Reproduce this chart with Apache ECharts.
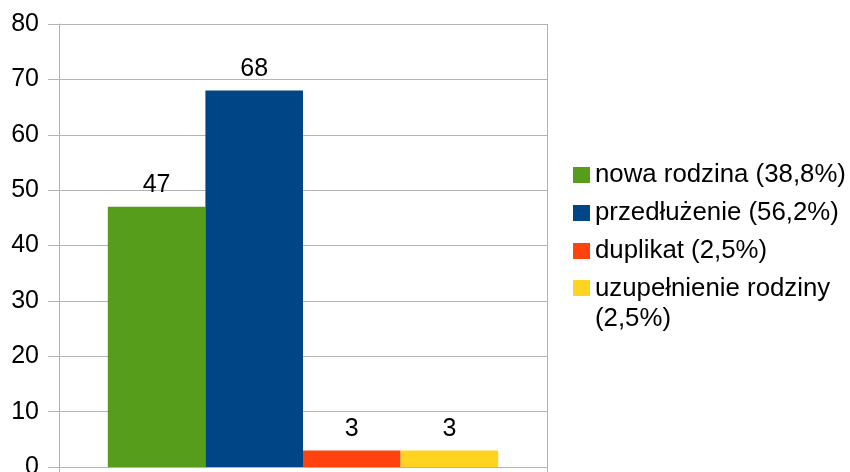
<!DOCTYPE html>
<html>
<head>
<meta charset="utf-8">
<script src="https://cdn.jsdelivr.net/npm/echarts@6/dist/echarts.min.js"></script>
<style>html,body{margin:0;padding:0;background:#fff}#c{width:850px;height:472px}</style>
</head>
<body>
<div id="c"></div>
<script>
const categories = [''];
const seriesNames = ['nowa rodzina (38,8%)', 'przedłużenie (56,2%)', 'duplikat (2,5%)', 'uzupełnienie rodziny (2,5%)'];
const seriesValues = [[47], [68], [3], [3]];
const seriesColors = ['#579D1C', '#004586', '#FF420E', '#FFD320'];
const yMin = 0, yMax = 80, yInterval = 10;

const FONT = 'Liberation Sans';
const FS = 25;
const LFS = 25.8;
const axisColor = '#b3b3b3';

const chart = echarts.init(document.getElementById('c'), null, {renderer: 'canvas'});
chart.setOption({
  animation: false,
  textStyle: {fontFamily: FONT},
  grid: {left: 59, right: 303, top: 24, bottom: 5, containLabel: false, outerBoundsMode: 'none'},
  xAxis: {
    type: 'category',
    data: categories,
    boundaryGap: true,
    axisLine: {show: true, lineStyle: {color: axisColor, width: 1}},
    axisTick: {show: true, length: 6, lineStyle: {color: axisColor}},
    axisLabel: {show: false},
    splitLine: {show: true, lineStyle: {color: axisColor, width: 1}}
  },
  yAxis: {
    type: 'value',
    min: yMin, max: yMax, interval: yInterval,
    axisLine: {show: true, lineStyle: {color: axisColor, width: 1}},
    axisTick: {show: true, length: 11, lineStyle: {color: axisColor}},
    axisLabel: {color: '#000', fontSize: FS, fontFamily: FONT, margin: 20},
    splitLine: {show: true, lineStyle: {color: axisColor, width: 1}}
  },
  legend: {
    orient: 'vertical',
    left: 573,
    top: 160,
    padding: 0,
    itemWidth: 17,
    itemHeight: 16,
    itemGap: 8,
    icon: 'rect',
    textStyle: {color: '#000', fontSize: LFS, fontFamily: FONT, lineHeight: 30},
    formatter: function (name) {
      if (name === seriesNames[3]) {
        return name.replace(/^(.*) (\(.*\))$/, '{a|$1}\n{a|$2}');
      }
      return name;
    },
    data: seriesNames.map(function (n, i) {
      return i === 3 ? {
        name: n,
        textStyle: {height: 28, lineHeight: 30, rich: {a: {fontSize: LFS, fontFamily: FONT, color: '#000', lineHeight: 30}}}
      } : {name: n};
    })
  },
  series: seriesNames.map(function (n, i) {
    return {
      name: n,
      type: 'bar',
      data: seriesValues[i],
      barGap: '0%',
      barCategoryGap: '20%',
      itemStyle: {color: seriesColors[i]},
      label: {show: true, position: 'top', distance: 9, color: '#000', fontSize: FS, fontFamily: FONT}
    };
  })
});
</script>
</body>
</html>
